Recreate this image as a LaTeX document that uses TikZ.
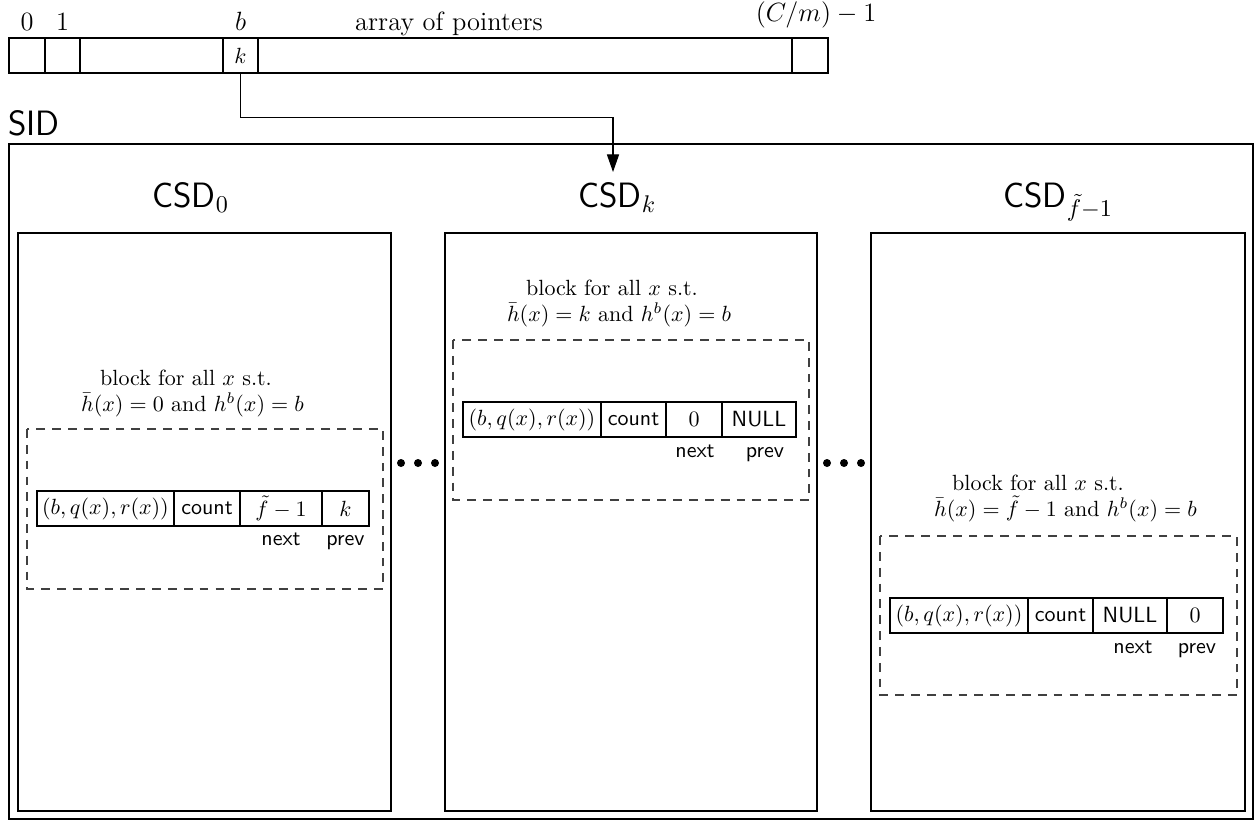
\documentclass[tikz,border=0pt]{standalone}
\usetikzlibrary{arrows.meta}
\begin{document}
\begin{tikzpicture}[x=0.4545pt,y=-0.4545pt,
  cell/.style={draw, line width=0.5pt, minimum height=35*0.4545pt, inner sep=0pt, anchor=center},
  sid/.style={draw, line width=0.55pt},
  blk/.style={draw, dash pattern=on 4pt off 3.2pt, line width=0.5pt, black!75},
  lbl/.style={anchor=base, inner sep=0pt},
  big/.style={anchor=base west, inner sep=0pt, font=\sffamily\fontsize{16}{19}\selectfont},
  sml/.style={anchor=base, inner sep=0pt, font=\sffamily},
  dot/.style={circle, fill, inner sep=0pt, minimum size=8*0.4545pt},
  arr/.style={line width=0.5pt, -{Triangle[length=8pt,width=5.5pt]}}]
\useasboundingbox (0,0) rectangle (1257,820);

% array of pointers
\node[cell, minimum width=36*0.4545pt]  (a0) at (27,55.5) {};
\node[cell, minimum width=35*0.4545pt]  (a1) at (62.5,55.5) {};
\node[cell, minimum width=143*0.4545pt] (a2) at (151.5,55.5) {};
\node[cell, minimum width=35*0.4545pt]  (ab) at (240.5,55.5) {$k$};
\node[cell, minimum width=534*0.4545pt] (a3) at (525,55.5) {};
\node[cell, minimum width=36*0.4545pt]  (al) at (810,55.5) {};
\node[lbl, font=\large] (l0) at (27,30) {$0$};
\node[lbl, font=\large] (l1) at (62.5,30) {$1$};
\node[lbl, font=\large] (lb) at (240.5,30) {$b$};
\node[lbl, font=\large] (lt) at (449,30) {array of pointers};
\node[lbl, font=\large] (ll) at (816,21) {$(C/m)-1$};

% SID
\node[big] (sidlbl) at (8,135) {SID};
\draw[sid] (9,144) rectangle (1253,819);
\draw[sid] (18,233) rectangle (391,811);
\draw[sid] (445,233) rectangle (817,811);
\draw[sid] (871,233) rectangle (1245,811);
\node[big] (c0) at (152,207) {CSD$_0$};
\node[big] (ck) at (578,207) {CSD$_k$};
\node[big] (cf) at (1003,207) {CSD$_{\tilde f-1}$};

% arrow
\coordinate (tip) at (613,172);
\draw[arr] (ab.south) -- ++(0,44) -| (tip);

% dots
\node[dot] (d1) at (401,463) {};
\node[dot] (d2) at (418,463) {};
\node[dot] (d3) at (435,463) {};
\node[dot] (d4) at (827,463) {};
\node[dot] (d5) at (844,463) {};
\node[dot] (d6) at (861,463) {};

% CSD_0 block
\node[lbl] (t0a) at (186,385) {block for all $x$ s.t.};
\node[lbl] (t0b) at (192.5,411) {$\bar h(x)=0$ and $h^b(x)=b$};
\draw[blk] (27,429) rectangle (383,589);
\node[cell, minimum width=137*0.4545pt] (r0a) at (105.5,508.5) {$(b,q(x),r(x))$};
\node[cell, minimum width=66*0.4545pt]  (r0b) at (207,508.5) {\sffamily count};
\node[cell, minimum width=82*0.4545pt]  (r0c) at (281,508.5) {$\tilde f-1$};
\node[cell, minimum width=47*0.4545pt]  (r0d) at (345.5,508.5) {$k$};
\node[sml] (n0) at (281,545) {next};
\node[sml] (p0) at (345.5,545) {prev};

% CSD_k block
\node[lbl] (tka) at (612,295) {block for all $x$ s.t.};
\node[lbl] (tkb) at (619,321) {$\bar h(x)=k$ and $h^b(x)=b$};
\draw[blk] (453,340) rectangle (809,500);
\node[cell, minimum width=138*0.4545pt] (rka) at (532,419.5) {$(b,q(x),r(x))$};
\node[cell, minimum width=65*0.4545pt]  (rkb) at (633.5,419.5) {\sffamily count};
\node[cell, minimum width=56*0.4545pt]  (rkc) at (694,419.5) {$0$};
\node[cell, minimum width=74*0.4545pt]  (rkd) at (759,419.5) {\sffamily NULL};
\node[sml] (nk) at (695,457) {next};
\node[sml] (pk) at (765,457) {prev};

% CSD_{f-1} block
\node[lbl] (tfa) at (1038,490) {block for all $x$ s.t.};
\node[lbl] (tfb) at (1065.5,516) {$\bar h(x)=\tilde f-1$ and $h^b(x)=b$};
\draw[blk] (880,536) rectangle (1237,695);
\node[cell, minimum width=138*0.4545pt] (rfa) at (959,615.5) {$(b,q(x),r(x))$};
\node[cell, minimum width=65*0.4545pt]  (rfb) at (1060.5,615.5) {\sffamily count};
\node[cell, minimum width=74*0.4545pt]  (rfc) at (1130,615.5) {\sffamily NULL};
\node[cell, minimum width=56*0.4545pt]  (rfd) at (1195,615.5) {$0$};
\node[sml] (nf) at (1133,653) {next};
\node[sml] (pf) at (1197,653) {prev};
\end{tikzpicture}
\end{document}
